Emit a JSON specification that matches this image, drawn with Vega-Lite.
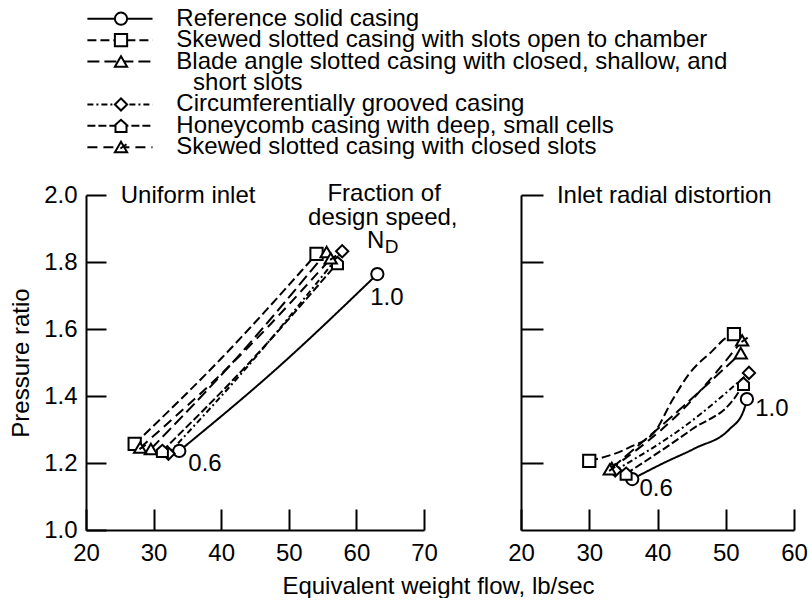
{
  "$schema": "https://vega.github.io/schema/vega-lite/v6.json",
  "background": "white",
  "padding": {"left": 9, "top": 6, "right": 0, "bottom": 0},
  "config": {
    "font": "Liberation Sans",
    "view": {"stroke": null},
    "axis": {
      "domainColor": "black", "domainWidth": 2, "tickColor": "black", "tickWidth": 2,
      "labelFont": "Liberation Sans", "labelFontSize": 24, "labelColor": "black",
      "titleFont": "Liberation Sans", "titleFontSize": 24, "titleFontWeight": "normal", "titleColor": "black",
      "grid": false, "labelFlush": false, "labelOverlap": false
    }
  },
  "datasets": {
    "legend": [
      {"s": "solid", "row": 0, "label": "Reference solid casing", "cont": false},
      {"s": "open", "row": 1, "label": "Skewed slotted casing with slots open to chamber", "cont": false},
      {"s": "blade", "row": 2, "label": "Blade angle slotted casing with closed, shallow, and", "cont": false},
      {"s": "blade", "row": 3, "label": "short slots", "cont": true},
      {"s": "groove", "row": 4, "label": "Circumferentially grooved casing", "cont": false},
      {"s": "honey", "row": 5, "label": "Honeycomb casing with deep, small cells", "cont": false},
      {"s": "closed", "row": 6, "label": "Skewed slotted casing with closed slots", "cont": false}
    ],
    "curves": [
      {"p": "U", "s": "solid", "x": 33.8, "y": 1.236, "m": 1},
      {"p": "U", "s": "solid", "x": 48.0, "y": 1.478, "m": 0},
      {"p": "U", "s": "solid", "x": 63.1, "y": 1.764, "m": 1},
      {"p": "U", "s": "open", "x": 27.2, "y": 1.257, "m": 1},
      {"p": "U", "s": "open", "x": 40.0, "y": 1.512, "m": 0},
      {"p": "U", "s": "open", "x": 54.1, "y": 1.824, "m": 1},
      {"p": "U", "s": "blade", "x": 29.6, "y": 1.242, "m": 1},
      {"p": "U", "s": "blade", "x": 42.0, "y": 1.507, "m": 0},
      {"p": "U", "s": "blade", "x": 55.6, "y": 1.830, "m": 1},
      {"p": "U", "s": "groove", "x": 32.2, "y": 1.228, "m": 1},
      {"p": "U", "s": "groove", "x": 45.0, "y": 1.514, "m": 0},
      {"p": "U", "s": "groove", "x": 57.9, "y": 1.832, "m": 1},
      {"p": "U", "s": "honey", "x": 31.3, "y": 1.236, "m": 1},
      {"p": "U", "s": "honey", "x": 44.0, "y": 1.496, "m": 0},
      {"p": "U", "s": "honey", "x": 57.2, "y": 1.797, "m": 1},
      {"p": "U", "s": "closed", "x": 28.0, "y": 1.245, "m": 1},
      {"p": "U", "s": "closed", "x": 43.0, "y": 1.525, "m": 0},
      {"p": "U", "s": "closed", "x": 56.2, "y": 1.810, "m": 1},
      {"p": "D", "s": "solid", "x": 36.3, "y": 1.152, "m": 1},
      {"p": "D", "s": "solid", "x": 40.6, "y": 1.197, "m": 0},
      {"p": "D", "s": "solid", "x": 45.6, "y": 1.245, "m": 0},
      {"p": "D", "s": "solid", "x": 50.5, "y": 1.300, "m": 0},
      {"p": "D", "s": "solid", "x": 52.6, "y": 1.355, "m": 0},
      {"p": "D", "s": "solid", "x": 53.1, "y": 1.391, "m": 1},
      {"p": "D", "s": "open", "x": 30.0, "y": 1.206, "m": 1},
      {"p": "D", "s": "open", "x": 35.8, "y": 1.246, "m": 0},
      {"p": "D", "s": "open", "x": 39.7, "y": 1.296, "m": 0},
      {"p": "D", "s": "open", "x": 42.1, "y": 1.385, "m": 0},
      {"p": "D", "s": "open", "x": 44.6, "y": 1.465, "m": 0},
      {"p": "D", "s": "open", "x": 48.0, "y": 1.534, "m": 0},
      {"p": "D", "s": "open", "x": 50.0, "y": 1.573, "m": 0},
      {"p": "D", "s": "open", "x": 51.2, "y": 1.585, "m": 1},
      {"p": "D", "s": "blade", "x": 33.3, "y": 1.185, "m": 1},
      {"p": "D", "s": "blade", "x": 43.0, "y": 1.355, "m": 0},
      {"p": "D", "s": "blade", "x": 52.2, "y": 1.528, "m": 1},
      {"p": "D", "s": "groove", "x": 33.8, "y": 1.178, "m": 1},
      {"p": "D", "s": "groove", "x": 44.0, "y": 1.310, "m": 0},
      {"p": "D", "s": "groove", "x": 53.4, "y": 1.469, "m": 1},
      {"p": "D", "s": "honey", "x": 35.4, "y": 1.168, "m": 1},
      {"p": "D", "s": "honey", "x": 45.0, "y": 1.300, "m": 0},
      {"p": "D", "s": "honey", "x": 51.5, "y": 1.400, "m": 0},
      {"p": "D", "s": "honey", "x": 52.6, "y": 1.436, "m": 1},
      {"p": "D", "s": "closed", "x": 33.0, "y": 1.180, "m": 1},
      {"p": "D", "s": "closed", "x": 43.0, "y": 1.345, "m": 0},
      {"p": "D", "s": "closed", "x": 52.4, "y": 1.565, "m": 1}
    ],
    "notesU": [
      {"t": "Uniform inlet", "x": 35.1, "y": 1.997, "f": 24},
      {"t": "Fraction of", "x": 64.1, "y": 2.003, "f": 24},
      {"t": "design speed,", "x": 63.9, "y": 1.931, "f": 24},
      {"t": "N", "x": 62.85, "y": 1.863, "f": 24},
      {"t": "D", "x": 65.2, "y": 1.846, "f": 19},
      {"t": "1.0", "x": 64.5, "y": 1.693, "f": 24},
      {"t": "0.6", "x": 37.6, "y": 1.197, "f": 24}
    ],
    "notesD": [
      {"t": "Inlet radial distortion", "x": 41.0, "y": 1.997, "f": 24},
      {"t": "1.0", "x": 56.75, "y": 1.361, "f": 24},
      {"t": "0.6", "x": 39.8, "y": 1.122, "f": 24}
    ]
  },
  "bounds": "flush",
  "spacing": 37,
  "vconcat": [
    {
      "width": 700,
      "height": 150,
      "data": {"name": "legend"},
      "layer": [
        {
          "transform": [{"filter": "!datum.cont"}],
          "mark": {"type": "rule", "strokeWidth": 2, "color": "black"},
          "encoding": {
            "x": {"datum": 0.02, "type": "quantitative", "scale": {"domain": [0, 10], "nice": false}, "axis": null},
            "x2": {"datum": 0.95},
            "y": {"field": "row", "type": "quantitative", "scale": {"domain": [-0.5, 6.5], "reverse": true, "nice": false, "zero": false}, "axis": null},
            "strokeDash": {"field": "s", "type": "nominal", "legend": null,
              "scale": {"domain": ["solid", "open", "blade", "groove", "honey", "closed"],
                        "range": [[1, 0], [9, 4], [12, 5], [6, 3, 2, 3], [8, 3], [10, 6]]}}
          }
        },
        {
          "transform": [{"filter": "!datum.cont"}],
          "mark": {"type": "point", "filled": true, "fill": "white", "stroke": "black", "strokeWidth": 2, "size": 150, "opacity": 1},
          "encoding": {
            "x": {"datum": 0.5, "type": "quantitative"},
            "y": {"field": "row", "type": "quantitative"},
            "shape": {"field": "s", "type": "nominal", "legend": null,
              "scale": {"domain": ["solid", "open", "blade", "groove", "honey", "closed"],
                        "range": ["circle", "square", "triangle-up", "diamond", "M-0.9,1L-0.9,-0.2L0,-1L0.9,-0.2L0.9,1Z", "M-1,0.8L0,-0.9L1,0.8Z M-0.1,0.2L0.9,-0.5"]}}
          }
        },
        {
          "transform": [{"filter": "!datum.cont"}],
          "mark": {"type": "text", "align": "left", "baseline": "middle", "fontSize": 24, "color": "black"},
          "encoding": {
            "x": {"datum": 1.29, "type": "quantitative"},
            "y": {"field": "row", "type": "quantitative"},
            "text": {"field": "label"}
          }
        },
        {
          "transform": [{"filter": "datum.cont"}],
          "mark": {"type": "text", "align": "left", "baseline": "middle", "fontSize": 24, "color": "black"},
          "encoding": {
            "x": {"datum": 1.53, "type": "quantitative"},
            "y": {"field": "row", "type": "quantitative"},
            "text": {"field": "label"}
          }
        }
      ]
    },
    {
      "bounds": "flush",
      "spacing": 97,
      "hconcat": [
        {
          "width": 338,
          "height": 335,
          "layer": [
            {
              "data": {"name": "curves"},
              "transform": [{"filter": "datum.p == 'U'"}],
              "mark": {"type": "line", "interpolate": "monotone", "strokeWidth": 2, "color": "black"},
              "encoding": {
                "x": {"field": "x", "type": "quantitative", "scale": {"domain": [20, 70], "nice": false, "zero": false},
                  "axis": {"values": [20, 30, 40, 50, 60, 70], "tickSize": -21, "labelPadding": 32,
                    "title": "Equivalent weight flow, lb/sec", "titleX": 352, "titleY": 56, "titleBaseline": "middle"}},
                "y": {"field": "y", "type": "quantitative", "scale": {"domain": [1, 2], "nice": false, "zero": false},
                  "axis": {"values": [1, 1.2, 1.4, 1.6, 1.8, 2], "format": ".1f", "tickSize": -20, "labelPadding": 29,
                    "title": "Pressure ratio", "titlePadding": 10}},
                "detail": {"field": "s"},
                "strokeDash": {"field": "s", "type": "nominal", "legend": null,
                  "scale": {"domain": ["solid", "open", "blade", "groove", "honey", "closed"],
                            "range": [[1, 0], [9, 4], [12, 5], [6, 3, 2, 3], [8, 3], [10, 6]]}}
              }
            },
            {
              "data": {"name": "curves"},
              "transform": [{"filter": "datum.p == 'U' && datum.m == 1"}],
              "mark": {"type": "point", "filled": true, "fill": "white", "stroke": "black", "strokeWidth": 2, "size": 150, "opacity": 1},
              "encoding": {
                "x": {"field": "x", "type": "quantitative"},
                "y": {"field": "y", "type": "quantitative"},
                "shape": {"field": "s", "type": "nominal", "legend": null,
                  "scale": {"domain": ["solid", "open", "blade", "groove", "honey", "closed"],
                            "range": ["circle", "square", "triangle-up", "diamond", "M-0.9,1L-0.9,-0.2L0,-1L0.9,-0.2L0.9,1Z", "M-1,0.8L0,-0.9L1,0.8Z M-0.1,0.2L0.9,-0.5"]}}
              }
            },
            {
              "data": {"name": "notesU"},
              "mark": {"type": "text", "align": "center", "baseline": "middle", "color": "black"},
              "encoding": {
                "x": {"field": "x", "type": "quantitative"},
                "y": {"field": "y", "type": "quantitative"},
                "text": {"field": "t"},
                "size": {"field": "f", "type": "quantitative", "scale": null}
              }
            }
          ]
        },
        {
          "width": 273,
          "height": 335,
          "layer": [
            {
              "data": {"name": "curves"},
              "transform": [{"filter": "datum.p == 'D'"}],
              "mark": {"type": "line", "interpolate": "monotone", "strokeWidth": 2, "color": "black"},
              "encoding": {
                "x": {"field": "x", "type": "quantitative", "scale": {"domain": [20, 60], "nice": false, "zero": false},
                  "axis": {"values": [20, 30, 40, 50, 60], "tickSize": -21, "labelPadding": 32, "title": null}},
                "y": {"field": "y", "type": "quantitative", "scale": {"domain": [1, 2], "nice": false, "zero": false},
                  "axis": {"values": [1.2, 1.4, 1.6, 1.8, 2], "tickSize": -22, "labels": false, "title": null}},
                "detail": {"field": "s"},
                "strokeDash": {"field": "s", "type": "nominal", "legend": null,
                  "scale": {"domain": ["solid", "open", "blade", "groove", "honey", "closed"],
                            "range": [[1, 0], [9, 4], [12, 5], [6, 3, 2, 3], [8, 3], [10, 6]]}}
              }
            },
            {
              "data": {"name": "curves"},
              "transform": [{"filter": "datum.p == 'D' && datum.m == 1"}],
              "mark": {"type": "point", "filled": true, "fill": "white", "stroke": "black", "strokeWidth": 2, "size": 150, "opacity": 1},
              "encoding": {
                "x": {"field": "x", "type": "quantitative"},
                "y": {"field": "y", "type": "quantitative"},
                "shape": {"field": "s", "type": "nominal", "legend": null,
                  "scale": {"domain": ["solid", "open", "blade", "groove", "honey", "closed"],
                            "range": ["circle", "square", "triangle-up", "diamond", "M-0.9,1L-0.9,-0.2L0,-1L0.9,-0.2L0.9,1Z", "M-1,0.8L0,-0.9L1,0.8Z M-0.1,0.2L0.9,-0.5"]}}
              }
            },
            {
              "data": {"name": "notesD"},
              "mark": {"type": "text", "align": "center", "baseline": "middle", "color": "black"},
              "encoding": {
                "x": {"field": "x", "type": "quantitative"},
                "y": {"field": "y", "type": "quantitative"},
                "text": {"field": "t"},
                "size": {"field": "f", "type": "quantitative", "scale": null}
              }
            }
          ]
        }
      ]
    }
  ]
}
